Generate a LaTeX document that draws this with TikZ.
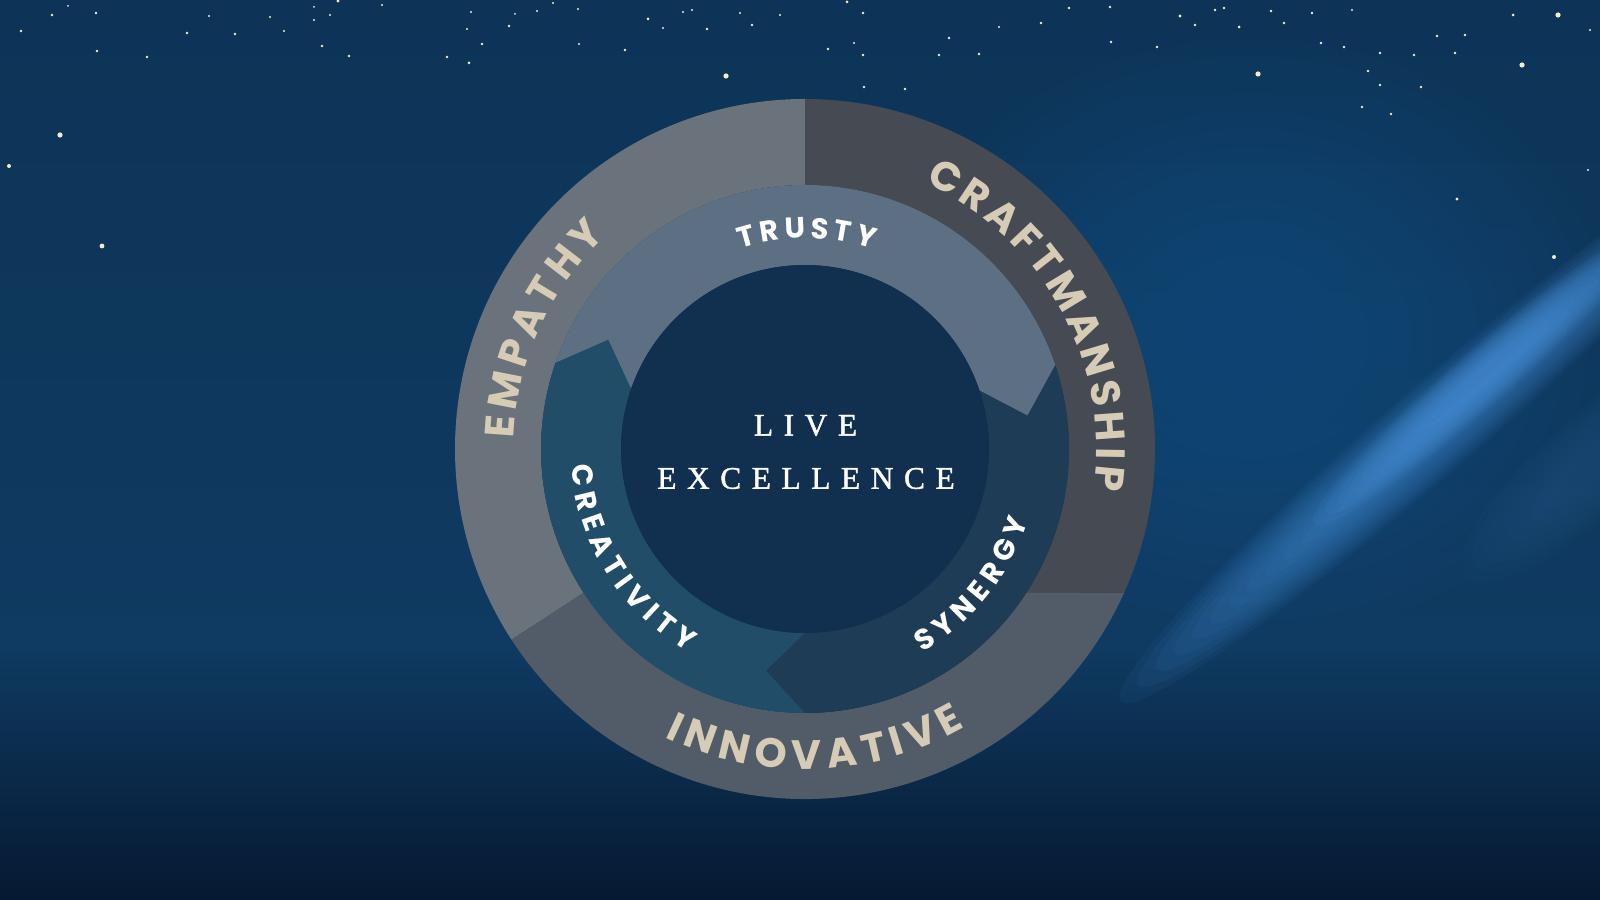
\documentclass[tikz,border=0pt]{standalone}
\usepackage{fontspec}
\newfontfamily\ringfont{Poppins}
\newfontfamily\livefont[FakeBold=1.2]{Liberation Serif}
\definecolor{bgtop}{HTML}{0D3457}
\definecolor{bgmid}{HTML}{0F3A61}
\definecolor{bgbot}{HTML}{061932}
\definecolor{empc}{HTML}{6A737C}
\definecolor{crafc}{HTML}{464A53}
\definecolor{innc}{HTML}{525C68}
\definecolor{trustc}{HTML}{5C6F83}
\definecolor{creac}{HTML}{214D69}
\definecolor{sync}{HTML}{1E3C55}
\definecolor{centc}{HTML}{112F4E}
\definecolor{beige}{HTML}{D6CCB6}
\definecolor{starc}{HTML}{F5EBC8}
\definecolor{beamc}{HTML}{4A92DA}
\definecolor{glowc}{HTML}{1D5590}
\newcommand\outerfont{\ringfont\bfseries\fontsize{41}{41}\selectfont}
\newcommand\innerfont{\ringfont\bfseries\fontsize{29}{29}\selectfont}
\newcommand\lsp{\kern 10.5pt}
\newdimen\arctot
\newdimen\arcpos
\newdimen\arcw
% measure letters outside the picture: #1 prefix, #2 font, #3 letters
\newcommand\measureletters[3]{%
  \global\arctot=0pt\relax
  \foreach \ch [count=\ci] in {#3}{%
    \setbox0=\hbox{#2\ch}%
    \expandafter\xdef\csname aw#1\ci\endcsname{\the\wd0}%
    \global\advance\arctot by \wd0\relax
    \xdef\arcn{\ci}%
  }%
  \expandafter\xdef\csname at#1\endcsname{\the\arctot}%
  \expandafter\xdef\csname an#1\endcsname{\arcn}%
}
% #1 font, #2 mid radius, #3 centre angle, #4 dir (1 cw tops out, -1 ccw tops in),
% #5 tracking, #6 cap height, #7 letters, #8 prefix, #9 colour
\newcommand\arctext[9]{%
  \pgfmathsetmacro\arctotal{\csname at#8\endcsname+(\csname an#8\endcsname-1)*#5}%
  \pgfmathsetmacro\arcstart{-0.5*\arctotal}%
  \global\arcpos=\arcstart pt\relax
  \pgfmathsetmacro\arcrb{#2-(#4)*#6/2}%
  \foreach \ch [count=\ci] in {#7}{%
    \pgfmathsetmacro\cw{\csname aw#8\ci\endcsname}%
    \pgfmathsetmacro\aang{#3-(#4)*(\arcpos+0.5*\cw)/#2*57.29578}%
    \node[ringletter,font=#1,text=#9,rotate=\aang-(#4)*90] (#8\ci) at (\aang:\arcrb pt) {\ch};
    \global\advance\arcpos by \cw pt\relax
    \global\advance\arcpos by #5pt\relax
  }%
}
\tikzset{
  ringletter/.style={inner sep=0pt, outer sep=0pt, anchor=base},
  stardot/.style={fill=starc},
  centretext/.style={inner sep=0pt, text=white, font=\livefont\fontsize{31.5}{31.5}\selectfont}
}
\begin{document}
\measureletters{emp}{\outerfont}{E,M,P,A,T,H,Y}%
\measureletters{craft}{\outerfont}{C,R,A,F,T,M,A,N,S,H,I,P}%
\measureletters{inno}{\outerfont}{I,N,N,O,V,A,T,I,V,E}%
\measureletters{trusty}{\innerfont}{T,R,U,S,T,Y}%
\measureletters{crea}{\innerfont}{C,R,E,A,T,I,V,I,T,Y}%
\measureletters{syn}{\innerfont}{S,Y,N,E,R,G,Y}%
\begin{tikzpicture}[x=1pt,y=1pt]
\useasboundingbox (0,0) rectangle (1600,899);
% background
\shade[top color=bgtop, bottom color=bgmid] (0,250) rectangle (1600,899);
\shade[top color=bgmid, bottom color=bgbot] (0,0) rectangle (1600,250.5);
% right glow
\foreach \i in {0,...,14}
  \fill[glowc, opacity=0.05] (1250,560) ellipse[x radius={360-\i*22}, y radius={300-\i*18}];
% left haze
\foreach \i in {0,...,9}
  \fill[glowc, opacity=0.015] (40,300) ellipse[x radius={260-\i*20}, y radius={120-\i*10}];
% beam
\begin{scope}[shift={(1445,480)}, rotate=41]
  \foreach \i in {0,...,13}
    \fill[beamc, opacity=0.065] (0,0) ellipse[x radius={430-\i*24}, y radius={44-\i*3}];
\end{scope}
\begin{scope}[shift={(1480,520)}, rotate=41]
  \foreach \i in {0,...,9}
    \fill[beamc, opacity=0.09] (0,0) ellipse[x radius={220-\i*16}, y radius={28-\i*2.2}];
\end{scope}
\begin{scope}[shift={(1600,440)}, rotate=41]
  \foreach \i in {0,...,7}
    \fill[beamc, opacity=0.025] (0,0) ellipse[x radius={180-\i*15}, y radius={50-\i*5}];
\end{scope}
% stars
\foreach \x/\y/\r in {60/135/2.6, 9/166/2, 102/246/2.4, 726/76/2.6, 21/31/1.3, 52/15/1.3, 96/13/1.3,
  68/6/1, 187/33/1.3, 235/34/1.3, 147/57/1.3, 97/51/1.3, 209/16/1.2, 270/17/1.2, 284/31/1.2,
  314/20/1.2, 322/46/1.3, 349/56/1.3, 314/7/1, 330/15/1.2, 338/1/1.6, 382/5/1.2, 447/57/1.3,
  469/63/1.5, 482/44/1.3, 467/29/1.2, 471/12/1.2, 509/26/1.3, 515/14/1, 537/11/1.2, 553/3/1.2,
  578/9/1.2, 579/44/1.2, 625/50/1.3, 648/19/1.5, 663/28/1.2, 683/12/1.2, 692/10/1.2, 707/29/1.3,
  740/13/1.2, 752/25/1.3, 780/15/1.2, 1558/15/2.6, 1522/65/2.6, 1258/74/2.6, 1457/199/1.6,
  1554/257/2, 847/2/1.5, 863/13/1.3, 828/49/1.3, 854/43/1.2, 863/55/1.3, 864/87/1.4, 905/89/1.4,
  939/55/1.3, 949/38/1.3, 979/54/1.3, 999/27/1.2, 1041/23/1.3, 1069/8/1.3, 1110/7/1.3, 1111/42/1.3,
  1157/47/1.4, 1180/16/1.6, 1195/25/1.3, 1215/10/1.3, 1224/8/1.3, 1239/27/1.5, 1271/11/1.3,
  1284/23/1.3, 1312/13/1.3, 1321/43/1.3, 1344/47/1.3, 1352/10/1.2, 1368/71/1.4, 1380/85/1.4,
  1362/107/1.4, 1391/114/1.4, 1421/87/1.4, 1380/53/1.3, 1414/55/1.3, 1437/36/1.3, 1455/53/1.3,
  1465/35/1.3, 1513/15/1.5, 1590/30/1.2, 1588/170/1.2}
  \fill[stardot] (\x,899-\y) circle[radius=\r];
% wheel
\begin{scope}[shift={(805,450)}]
  % outer ring
  \fill[empc] (90:350pt) arc[start angle=90, end angle=213, radius=350pt]
    -- (213:264pt) arc[start angle=213, end angle=90, radius=264pt] -- cycle;
  \fill[crafc] (90:350pt) arc[start angle=90, end angle=-24.3, radius=350pt]
    -- (-33.05:264pt) arc[start angle=-33.05, end angle=90, radius=264pt] -- cycle;
  \fill[innc] (-24.3:350pt) arc[start angle=-24.3, end angle=-147, radius=350pt]
    -- (-147:264pt) arc[start angle=-147, end angle=-33.05, radius=264pt] -- cycle;
  % inner arrows
  \fill[trustc] (161:264pt) arc[start angle=161, end angle=18.5, radius=264pt]
    -- (8.5:225pt) -- (18.5:184pt) arc[start angle=18.5, end angle=161, radius=184pt]
    -- (151:225pt) -- cycle;
  \fill[sync] (18.5:264pt) arc[start angle=18.5, end angle=-90, radius=264pt]
    -- (-100:225pt) -- (-90:184pt) arc[start angle=-90, end angle=18.5, radius=184pt]
    -- (8.5:225pt) -- cycle;
  \fill[creac] (-90:264pt) arc[start angle=-90, end angle=-199, radius=264pt]
    -- (-209:225pt) -- (-199:184pt) arc[start angle=-199, end angle=-90, radius=184pt]
    -- (-100:225pt) -- cycle;
  % centre
  \fill[centc] (0,0) circle[radius=184pt];
  % ring labels
  \arctext{\outerfont}{306}{155.5}{1}{7}{29}{E,M,P,A,T,H,Y}{emp}{beige}
  \arctext{\outerfont}{306}{28.8}{1}{6}{29}{C,R,A,F,T,M,A,N,S,H,I,P}{craft}{beige}
  \arctext{\outerfont}{306}{272}{-1}{5}{29}{I,N,N,O,V,A,T,I,V,E}{inno}{beige}
  \arctext{\innerfont}{221}{89.5}{1}{6}{20.5}{T,R,U,S,T,Y}{trusty}{white}
  \arctext{\innerfont}{224}{212}{-1}{5.5}{20.5}{C,R,E,A,T,I,V,I,T,Y}{crea}{white}
  \arctext{\innerfont}{224}{321}{-1}{5}{20.5}{S,Y,N,E,R,G,Y}{syn}{white}
\end{scope}
% centre text
\node[centretext] (live) at (805.5,473.5) {L\lsp I\lsp V\lsp E};
\node[centretext] (excellence) at (806,420.5) {E\lsp X\lsp C\lsp E\lsp L\lsp L\lsp E\lsp N\lsp C\lsp E};
\end{tikzpicture}
\end{document}
